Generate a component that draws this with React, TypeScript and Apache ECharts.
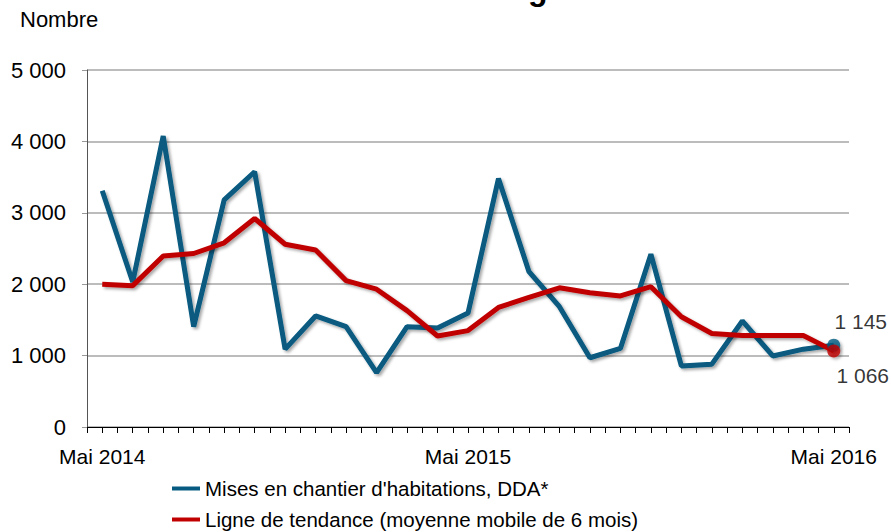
import React, { useEffect, useRef } from "react";
import * as echarts from "echarts";

const months = [
  "Mai 2014", "Juin 2014", "Juil 2014", "Août 2014", "Sept 2014", "Oct 2014",
  "Nov 2014", "Déc 2014", "Janv 2015", "Févr 2015", "Mars 2015", "Avr 2015",
  "Mai 2015", "Juin 2015", "Juil 2015", "Août 2015", "Sept 2015", "Oct 2015",
  "Nov 2015", "Déc 2015", "Janv 2016", "Févr 2016", "Mars 2016", "Avr 2016",
  "Mai 2016",
];
const labelledMonths = ["Mai 2014", "Mai 2015", "Mai 2016"];

const starts = [
  3310, 2030, 4075, 1405, 3180, 3575, 1090, 1555, 1405, 760, 1405, 1385,
  1595, 3480, 2175, 1685, 970, 1100, 2420, 855, 880, 1485, 995, 1090, 1145,
];
const trend = [
  2000, 1980, 2395, 2430, 2580, 2920, 2560, 2480, 2050, 1930, 1630, 1275,
  1350, 1675, 1815, 1950, 1880, 1835, 1965, 1545, 1310, 1280, 1280, 1280, 1066,
];

const seriesNames = [
  "Mises en chantier d'habitations, DDA*",
  "Ligne de tendance (moyenne mobile de 6 mois)",
];
const yTicks = [0, 1000, 2000, 3000, 4000, 5000];

const FONT = "'Liberation Sans', Arial, sans-serif";
const BLUE = "#075A80";
const RED = "#C00000";

const fmt = (v: number) =>
  String(Math.round(v)).replace(/\B(?=(\d{3})+(?!\d))/g, " ");

export default function App() {
  const ref = useRef<HTMLDivElement>(null);
  useEffect(() => {
    if (!ref.current) return;
    const chart = echarts.init(ref.current, null, { renderer: "svg" });
    const last = months.length - 1;
    const shadow = {
      shadowColor: "rgba(0,0,0,0.35)",
      shadowBlur: 3,
      shadowOffsetX: 2,
      shadowOffsetY: 2,
    };
    const legendBase = {
      orient: "horizontal",
      left: 172,
      padding: 0,
      itemWidth: 28,
      itemHeight: 4,
      icon: "rect",
      textStyle: { fontSize: 20.5, color: "#000", fontFamily: FONT },
    };
    chart.setOption({
      animation: false,
      backgroundColor: "#ffffff",
      textStyle: { fontFamily: FONT },
      grid: { left: 87, right: 42, top: 70, bottom: 105, containLabel: false },
      graphic: [
        {
          type: "text",
          left: 20,
          top: 8,
          style: { text: "Nombre", fontSize: 22, fontFamily: FONT, fill: "#000" },
        },
        {
          type: "text",
          x: 528,
          y: -11,
          style: {
            text: "g",
            fontSize: 32,
            fontWeight: "bold",
            fontFamily: FONT,
            fill: "#000",
            verticalAlign: "middle",
          },
        },
      ],
      legend: [
        { ...legendBase, top: 478, data: [seriesNames[0]] },
        { ...legendBase, top: 509, data: [seriesNames[1]] },
      ],
      xAxis: {
        type: "value",
        min: -0.5,
        max: last + 0.5,
        interval: 0.5,
        splitLine: { show: false },
        axisLine: { show: true, onZero: false, lineStyle: { color: "#000", width: 1 } },
        axisTick: { show: true, length: 6, lineStyle: { color: "#000" } },
        axisLabel: {
          fontSize: 21,
          color: "#000",
          fontFamily: FONT,
          margin: 19,
          showMinLabel: true,
          showMaxLabel: true,
          formatter: (v: number) => {
            const i = Math.round(v);
            if (Math.abs(v - i) > 1e-6) return "";
            return labelledMonths.includes(months[i]) ? months[i] : "";
          },
        },
      },
      yAxis: {
        type: "value",
        min: yTicks[0],
        max: yTicks[yTicks.length - 1],
        interval: 1000,
        axisLine: { show: true, onZero: false, lineStyle: { color: "#555", width: 1 } },
        axisTick: { show: true, length: 5, lineStyle: { color: "#999" } },
        splitLine: { show: true, lineStyle: { color: "#A6A6A6", width: 1.5 } },
        axisLabel: {
          fontSize: 22,
          color: "#000",
          fontFamily: FONT,
          margin: 21,
          formatter: (v: number) => fmt(v),
        },
      },
      series: [
        {
          name: seriesNames[0],
          type: "line",
          data: starts.map((v, i) => [i, v]),
          showSymbol: false,
          symbol: "none",
          color: BLUE,
          lineStyle: { color: BLUE, width: 5, ...shadow },
          z: 2,
        },
        {
          name: seriesNames[1],
          type: "line",
          data: trend.map((v, i) => [i, v]),
          showSymbol: false,
          symbol: "none",
          color: RED,
          lineStyle: { color: RED, width: 5, ...shadow },
          z: 3,
        },
        {
          name: "endStarts",
          type: "scatter",
          data: [[last, starts[last]]],
          symbol: "circle",
          symbolSize: 13,
          itemStyle: { color: BLUE, ...shadow },
          label: {
            show: true,
            position: "inside",
            offset: [27, -24],
            fontSize: 21,
            color: "#000",
            fontFamily: FONT,
            formatter: (p: any) => fmt(p.value[1]),
          },
          z: 4,
        },
        {
          name: "endTrend",
          type: "scatter",
          data: [[last, trend[last]]],
          symbol: "circle",
          symbolSize: 13,
          itemStyle: { color: RED, ...shadow },
          label: {
            show: true,
            position: "inside",
            offset: [29, 25],
            fontSize: 21,
            color: "#000",
            fontFamily: FONT,
            formatter: (p: any) => fmt(p.value[1]),
          },
          z: 5,
        },
      ],
    });
    return () => chart.dispose();
  }, []);
  return (
    <div
      ref={ref}
      style={{ position: "absolute", left: 0, top: 0, width: 891, height: 532 }}
    />
  );
}
